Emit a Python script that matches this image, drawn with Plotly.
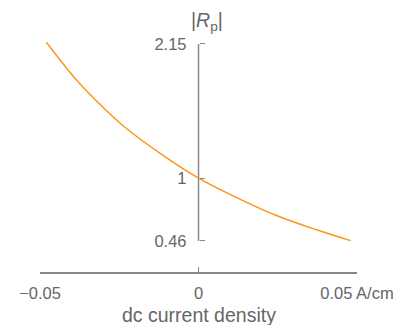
import plotly.graph_objects as go

# data
current_density = [-0.048, -0.0387, -0.0325, -0.0237, -0.0098, 0.0, 0.0093, 0.0242, 0.0375, 0.048]
rp_abs = [2.165, 1.847, 1.670, 1.447, 1.169, 1.0, 0.869, 0.683, 0.554, 0.463]

x_tickvals = [-0.05, 0, 0.05]
x_ticktext = ["\u22120.05", "0", "0.05 A/cm"]
y_tickvals = [0.46, 1, 2.15]
y_ticktext = ["0.46", "1", "2.15"]

W, H = 406, 325
ml, mt = 40, 30
plot_w, plot_h = 363 - 40, 272 - 30
mr = W - ml - plot_w
mb = H - mt - plot_h
axis_color = "#888888"
text_color = "#666666"
font_family = "Liberation Sans, Arial, sans-serif"

fig = go.Figure()
fig.add_trace(go.Scatter(
    x=current_density, y=rp_abs, mode="lines",
    line=dict(color="#FF9316", width=1.4, shape="spline"),
    hoverinfo="skip", showlegend=False,
))

# vertical axis line between the extreme ticks
fig.add_shape(type="line", xref="x", yref="y", x0=0, x1=0,
              y0=y_tickvals[0], y1=y_tickvals[-1],
              line=dict(color=axis_color, width=1.5), layer="below")

fig.update_layout(
    width=W, height=H,
    margin=dict(l=ml, r=mr, t=mt, b=mb),
    paper_bgcolor="white", plot_bgcolor="white",
    font=dict(family=font_family, color=text_color, size=17),
    xaxis=dict(
        range=[-0.05, 0.05], showgrid=False, zeroline=False,
        showline=True, linecolor=axis_color, linewidth=1.5,
        ticks="inside", ticklen=5, tickwidth=1.2, tickcolor=axis_color,
        tickvals=x_tickvals, ticktext=x_ticktext,
        tickfont=dict(size=16.5, color=text_color),
        ticklabelstandoff=5,
    ),
    yaxis=dict(
        range=[0.194, 2.27], showgrid=False, zeroline=False,
        showline=False, anchor="free", position=0.5,
        ticks="inside", ticklen=5, tickwidth=1.2, tickcolor=axis_color,
        tickvals=y_tickvals, ticktext=y_ticktext,
        tickfont=dict(size=16.5, color=text_color),
        ticklabelstandoff=12,
    ),
    annotations=[
        dict(text="dc current density", xref="paper", yref="paper",
             x=0.5, y=(272 - 315) / plot_h, xanchor="center", yanchor="middle",
             showarrow=False, font=dict(size=19.5, color=text_color)),
        dict(text="|<i>R</i><sub>p</sub>|", xref="paper", yref="paper",
             x=(192 - 40) / plot_w, y=(272 - 21) / plot_h,
             xanchor="left", yanchor="middle",
             showarrow=False, font=dict(size=19.5, color=text_color)),
    ],
)

fig.write_html(
    "out.html",
    config={"displayModeBar": False},
    post_script="document.body.style.margin='0';document.body.style.overflow='hidden';",
)
